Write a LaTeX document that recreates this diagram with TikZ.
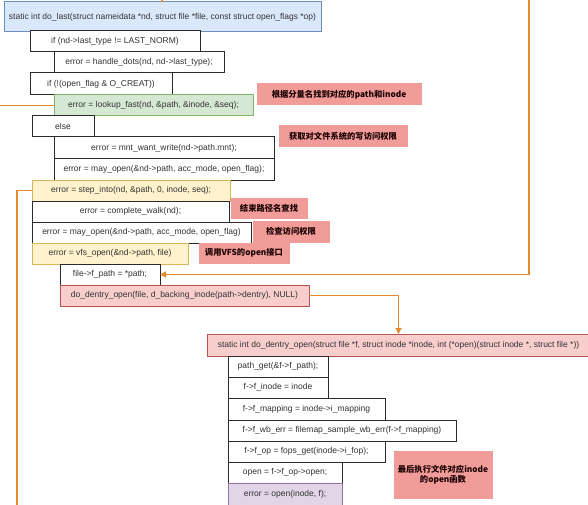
\documentclass[tikz,border=0pt]{standalone}
\usepackage{fontspec}
\setmainfont{Liberation Sans}
\newfontfamily\cjk{Noto Sans CJK SC}
\usetikzlibrary{arrows.meta}
\definecolor{blueF}{HTML}{DAE8FC}\definecolor{blueD}{HTML}{6C8EBF}
\definecolor{greenF}{HTML}{D5E8D4}\definecolor{greenD}{HTML}{82B366}
\definecolor{yelF}{HTML}{FFF2CC}\definecolor{yelD}{HTML}{D6B656}
\definecolor{pinkF}{HTML}{F8CECC}\definecolor{pinkD}{HTML}{B85450}
\definecolor{purF}{HTML}{E1D5E7}\definecolor{purD}{HTML}{9673A6}
\definecolor{noteF}{HTML}{F19C99}
\definecolor{orangeL}{HTML}{E58A2C}
\definecolor{boxD}{HTML}{2A2A2A}
\tikzset{
  box/.style={draw=boxD, fill=white, line width=1pt, inner sep=0pt, outer sep=0pt,
    anchor=north west, align=center, font=\fontsize{8.5}{10}\selectfont, text=black!80},
  bluebox/.style={box, draw=blueD, fill=blueF},
  greenbox/.style={box, draw=greenD, fill=greenF},
  yelbox/.style={box, draw=yelD, fill=yelF},
  pinkbox/.style={box, draw=pinkD, fill=pinkF},
  purbox/.style={box, draw=purD, fill=purF},
  notebox/.style={box, draw=noteF, fill=noteF, font=\cjk\bfseries\fontsize{8.3}{10}\selectfont, text=black!90!red},
  conn/.style={draw=orangeL, line width=1.3pt},
  arr/.style={conn, -{Triangle[length=6pt,width=6pt]}}
}
\newcommand{\bx}[7]{\node[#2, minimum width={#5pt-#3pt}, minimum height={#6pt-#4pt}] (#1) at (#3,#4) {#7};}
\begin{document}
\begin{tikzpicture}[x=1pt,y=-1pt]
\useasboundingbox[fill=white] (0,0) rectangle (588,505);
% first function
\bx{dolast}{bluebox}{4}{2}{321}{32}{static int do\_last(struct nameidata *nd, struct file *file, const struct open\_flags *op)}
\bx{iflast}{box}{30}{31}{200}{52}{if (nd->last\_type != LAST\_NORM)}
\bx{dots}{box}{54}{52}{224}{73}{error = handle\_dots(nd, nd->last\_type);}
\bx{ifcreat}{box}{30}{73}{172}{95}{if (!(open\_flag \& O\_CREAT))}
\bx{lookup}{greenbox}{54}{95}{253}{116}{error = lookup\_fast(nd, \&path, \&inode, \&seq);}
\bx{else}{box}{32}{116}{94}{137}{else}
\bx{mnt}{box}{54}{137}{274}{159}{error = mnt\_want\_write(nd->path.mnt);}
\bx{mayopenA}{box}{54}{159}{274}{180}{error = may\_open(\&nd->path, acc\_mode, open\_flag);}
\bx{step}{yelbox}{32}{180}{230}{201}{error = step\_into(nd, \&path, 0, inode, seq);}
\bx{walk}{box}{32}{201}{229}{222}{error = complete\_walk(nd);}
\bx{mayopenB}{box}{32}{222}{251}{243}{error = may\_open(\&nd->path, acc\_mode, open\_flag)}
\bx{vfs}{yelbox}{32}{243}{188}{264}{error = vfs\_open(\&nd->path, file)}
\bx{fpath}{box}{60}{264}{160}{285}{file->f\_path = *path;}
\bx{dentry}{pinkbox}{60}{285}{309}{306}{do\_dentry\_open(file, d\_backing\_inode(path->dentry), NULL)}
% notes
\bx{n1}{notebox}{257}{84}{421}{105}{根据分量名找到对应的path和inode}
\bx{n2}{notebox}{279}{126}{407}{147}{获取对文件系统的写访问权限}
\bx{n3}{notebox}{231}{198}{307}{218}{结束路径名查找}
\bx{n4}{notebox}{253}{221}{329}{242}{检查访问权限}
\bx{n5}{notebox}{199}{243}{289}{263}{调用VFS的open接口}
\bx{n6}{notebox}{394}{451}{492}{498}{最后执行文件对应inode\\的open函数}
% second function
\bx{ddo}{pinkbox}{207}{334}{590}{356}{static int do\_dentry\_open(struct file *f, struct inode *inode, int (*open)(struct inode *, struct file *))}
\bx{pget}{box}{228}{356}{328}{377}{path\_get(\&f->f\_path);}
\bx{finode}{box}{228}{377}{328}{398}{f->f\_inode = inode}
\bx{fmap}{box}{228}{398}{385}{420}{f->f\_mapping = inode->i\_mapping}
\bx{fwb}{box}{228}{420}{456}{441}{f->f\_wb\_err = filemap\_sample\_wb\_err(f->f\_mapping)}
\bx{fop}{box}{228}{441}{385}{462}{f->f\_op = fops\_get(inode->i\_fop);}
\bx{openas}{box}{228}{462}{342}{483}{open = f->f\_op->open;}
\bx{callopen}{purbox}{228}{483}{342}{505}{error = open(inode, f);}
% connectors
\coordinate (topin) at (162,0);
\coordinate (rtop) at (529,0);
\coordinate (lleft) at (0,105.5);
\coordinate (lbot) at (17,505);
\draw[conn] (topin) -- (topin |- dolast.north);
\draw[arr] (rtop) |- (fpath.east);
\draw[arr] (dentry.east) -| (ddo.north);
\draw[conn] (lookup.west) -- (lleft);
\draw[conn] (step.west) -| (lbot);
\end{tikzpicture}
\end{document}
